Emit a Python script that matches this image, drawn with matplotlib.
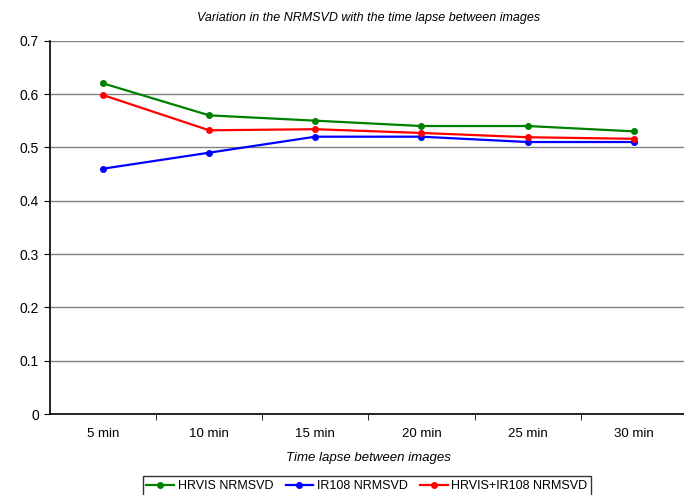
import matplotlib.pyplot as plt
import numpy as np

plt.rcParams['font.family'] = ['Liberation Sans', 'DejaVu Sans']

categories = ['5 min', '10 min', '15 min', '20 min', '25 min', '30 min']
hrvis = [0.62, 0.56, 0.55, 0.54, 0.54, 0.53]
ir108 = [0.46, 0.49, 0.52, 0.52, 0.51, 0.51]
combined = [0.598, 0.532, 0.534, 0.527, 0.519, 0.516]

fig = plt.figure(figsize=(6.84, 4.95), dpi=100)
ax = fig.add_axes([0.0731, 0.1636, 0.931, 0.7542])

x = np.arange(len(categories))
ax.plot(x, hrvis, color='#008000', marker='o', markersize=4, linewidth=1.6, label='HRVIS NRMSVD')
ax.plot(x, ir108, color='#0000FF', marker='o', markersize=4, linewidth=1.6, label='IR108 NRMSVD')
ax.plot(x, combined, color='#FF0000', marker='o', markersize=4, linewidth=1.6, label='HRVIS+IR108 NRMSVD')

ax.set_xlim(-0.5, len(categories) - 0.5)
ax.set_ylim(0, 0.7)
ax.set_yticks(np.arange(0, 0.71, 0.1))
ax.set_yticklabels(['0', '0.1', '0.2', '0.3', '0.4', '0.5', '0.6', '0.7'], fontsize=10)
ax.set_xticks(x)
ax.set_xticklabels(categories, fontsize=9.5)
ax.set_xticks(np.arange(0.5, len(categories) - 0.5, 1), minor=True)
ax.tick_params(axis='x', which='major', length=0, pad=10)
ax.tick_params(axis='x', which='minor', length=4, direction='out')
ax.tick_params(axis='y', length=4, direction='out', pad=4)

ax.grid(axis='y', color='#808080', linewidth=1)
ax.set_axisbelow(True)
for s in ['top', 'right']:
    ax.spines[s].set_visible(False)
ax.spines['left'].set_linewidth(1.2)
ax.spines['bottom'].set_linewidth(1.2)

ax.set_title('Variation in the NRMSVD with the time lapse between images',
             fontsize=9, style='italic', pad=14)
ax.set_xlabel('Time lapse between images', fontsize=9.5, style='italic', labelpad=9)

leg = ax.legend(loc='upper center', bbox_to_anchor=(0.4977, -0.167), ncol=3,
                fontsize=9, frameon=True, fancybox=False, edgecolor='black',
                handlelength=2.2, handletextpad=0.3, columnspacing=1.0,
                borderpad=0.3, borderaxespad=0)
leg.get_frame().set_linewidth(1)

fig.savefig('out.png', dpi=100)
